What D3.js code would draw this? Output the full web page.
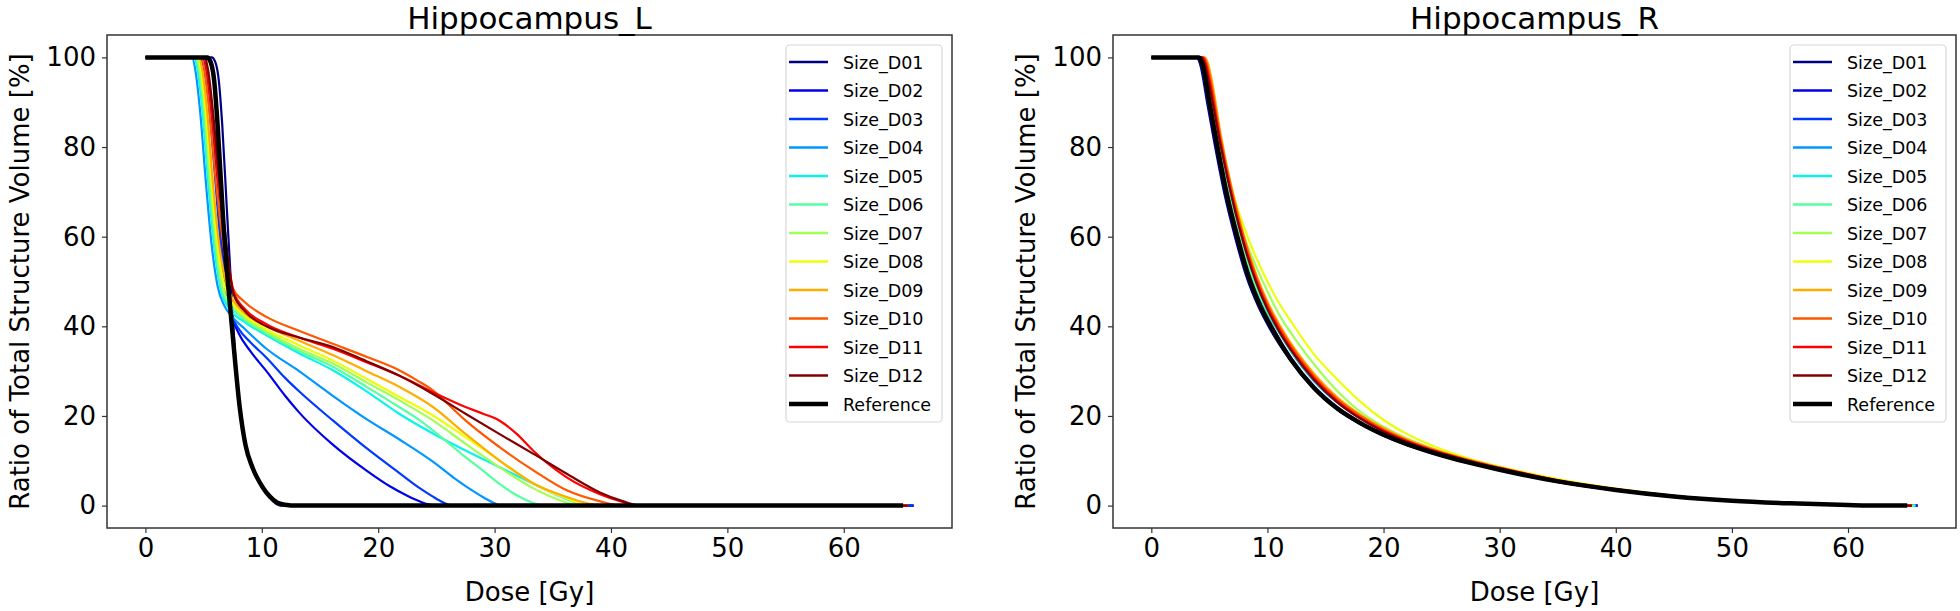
<!DOCTYPE html>
<html>
<head>
<meta charset="utf-8">
<script src="https://cdn.jsdelivr.net/npm/d3@7"></script>
<style>
  html, body { margin: 0; padding: 0; background: #fff; }
  svg { display: block; }
  text { font-family: "DejaVu Sans", sans-serif; fill: #000; }
</style>
</head>
<body>
<svg id="chart" width="1960" height="611"></svg>
<script>
// ---------- data ----------
const seriesNames = ["Size_D01","Size_D02","Size_D03","Size_D04","Size_D05","Size_D06",
                     "Size_D07","Size_D08","Size_D09","Size_D10","Size_D11","Size_D12","Reference"];
const seriesColors = ["#000080","#0000e9","#003aff","#0097ff","#0bf3eb","#56ffa1",
                      "#a1ff56","#ebff0b","#ffad00","#ff5700","#ff0100","#800000","#000000"];
const xTicks = [0, 10, 20, 30, 40, 50, 60];
const yTicks = [0, 20, 40, 60, 80, 100];
const panelTitles = ["Hippocampus_L", "Hippocampus_R"];
const xLabel = "Dose [Gy]";
const yLabel = "Ratio of Total Structure Volume [%]";

// Hippocampus_L : [dose, volume %]
const L_D01 = [[0,100],[5.7,100],[6.0,99],[6.3,95],[6.6,85],[7.0,66],[7.3,52],[7.6,38],[8.1,22],[8.6,13.5],[9.2,8.5],[10.1,4],[10.7,1.8],[11.3,0.3],[11.6,0],[66,0]];
const L_D02 = [[0,100],[4.8,100],[5.1,98],[5.5,91],[6.0,76],[6.5,60],[7.0,48],[7.4,42.5],[8.0,38.5],[9.0,34.5],[10.4,30],[12,24.5],[13.2,20.8],[16.1,13.6],[19,7.8],[21,4.3],[22.5,2.2],[23.6,0.9],[24.4,0.2],[25,0],[66,0]];
const L_D03 = [[0,100],[4.7,100],[5.0,98],[5.4,91],[5.9,76],[6.4,60],[6.9,48],[7.4,42.5],[8.0,39.5],[9.0,36.5],[10.4,33],[12,28.5],[13.2,25.5],[16.1,19],[19,12.8],[21.8,7.3],[23.5,4],[24.7,2],[25.6,0.7],[26.3,0],[66,0]];
const L_D04 = [[0,100],[4.0,100],[4.3,97],[4.7,88],[5.2,72],[5.7,58],[6.2,49],[6.8,44.5],[7.5,42],[8.5,39.5],[10.4,35],[13.2,30],[16.1,24.5],[19,19.3],[21.8,14.8],[24.7,9.8],[26.5,6.2],[28,3.5],[29.2,1.6],[30,0.5],[30.6,0],[65.5,0]];
const L_D05 = [[0,100],[4.2,100],[4.5,97],[4.9,88],[5.4,72],[5.9,58],[6.5,48],[7.2,44],[8.5,41],[10.4,38],[13.2,34],[16.1,30.2],[19,25.5],[21.8,20.5],[24.7,16.1],[27.5,12.3],[30.4,8.6],[33.3,4.9],[35.5,2.2],[37,0.7],[38,0],[65.5,0]];
const L_D06 = [[0,100],[4.3,100],[4.6,97],[5.0,88],[5.5,72],[6.0,58],[6.6,48],[7.3,44.5],[8.5,41.5],[10.4,38.4],[13.2,34.5],[16.1,31],[19,26.5],[21.8,22],[23.3,19.5],[24.7,16.8],[26.1,13.8],[27.5,10.8],[29,7.8],[30.4,4.9],[31.9,2.3],[33.1,0.8],[34.2,0],[65.5,0]];
const L_D07 = [[0,100],[4.4,100],[4.7,97],[5.1,88],[5.6,72],[6.1,58],[6.7,48],[7.4,45],[8.5,42],[10.4,38.8],[13.2,35],[16.1,31.7],[19,27.5],[21.8,23.5],[24.7,19],[27.5,13.8],[30.4,8.6],[33.3,3.9],[35.5,1.3],[37.3,0],[65.5,0]];
const L_D08 = [[0,100],[4.5,100],[4.8,97],[5.2,88],[5.7,72],[6.2,58],[6.8,49],[7.4,45.5],[8.5,42.5],[10.4,39.3],[13.2,35.8],[16.1,32.4],[19,28.3],[21.8,24.3],[24.7,20.1],[27.5,15.3],[30.4,10.1],[33.3,5],[36,1.8],[38.2,0],[65.5,0]];
const L_D09 = [[0,100],[4.6,100],[4.9,97],[5.3,88],[5.8,72],[6.3,59],[6.9,50],[7.5,46],[8.5,43],[10.4,40],[13.2,36.8],[16.1,33.6],[19,30],[21.8,26.5],[24.7,22],[27.5,16],[30.4,10.1],[33.3,5],[36.2,1.9],[38,0.5],[39.2,0],[65.5,0]];
const L_D10 = [[0,100],[4.8,100],[5.1,97],[5.5,88],[6.0,74],[6.5,62],[7.0,53],[7.5,48.5],[8.5,45.5],[10.4,42.1],[13.2,39],[16.1,36.1],[19,33.2],[21.8,30.2],[23.3,28],[24.7,25.7],[26.1,22.4],[27.5,19],[30.4,13.1],[33.3,7.9],[36.2,3.4],[39,1],[41,0],[65.5,0]];
const L_D11 = [[0,100],[5.0,100],[5.3,97],[5.7,88],[6.2,74],[6.7,62],[7.2,53],[7.6,47.5],[8.5,44],[10.4,40.5],[13.2,37.5],[16.1,35],[19,32],[21.8,29],[24.7,25.3],[27.5,22],[29,20.5],[30.4,19],[31.9,16],[33.3,12.3],[36.2,6.3],[39,2.6],[41,0.8],[42.2,0],[65.5,0]];
const L_D12 = [[0,100],[5.1,100],[5.4,97],[5.8,88],[6.3,74],[6.8,62],[7.2,53],[7.6,47],[8.5,43.5],[10.4,40],[13.2,37.5],[16.1,35.4],[19,32.2],[21.8,29],[24.7,24.9],[27.5,20.5],[30.4,16],[33.3,11.6],[36.2,7.1],[39,3],[41,1],[42.5,0],[65.5,0]];
const L_REF = [[0,100],[5.3,100],[5.6,99],[5.9,95],[6.2,85],[6.7,63],[7.05,51],[7.5,38],[8.1,22],[8.6,13.5],[9.2,8.5],[10.1,4],[10.7,2],[11.3,0.7],[12,0.2],[13,0],[65.1,0]];

// Hippocampus_R : [dose, volume %]
const R_D01 = [[0,100],[3.9,100],[4.2,98.5],[4.8,90],[5.5,80],[6.3,69.5],[7.2,60],[8.2,51],[9.2,44.5],[10.2,39.5],[12,32.3],[14,26],[16,21.4],[18,18.2],[20,15.6],[22,13.5],[24,11.8],[26,10.4],[28,9.1],[30,7.9],[35,5.3],[40,3.4],[45,2],[50,1.05],[55,0.5],[60,0.12],[63,0],[66,0]];
const R_D02 = [[0,100],[4.0,100],[4.3,98.5],[4.9,90],[5.6,80],[6.4,69.5],[7.3,60],[8.3,51],[9.3,44.5],[10.3,39.5],[12,32.5],[14,26.1],[16,21.5],[18,18.3],[20,15.7],[22,13.6],[24,11.9],[26,10.4],[28,9.1],[30,7.9],[35,5.3],[40,3.4],[45,2],[50,1.05],[55,0.5],[60,0.12],[63,0],[66,0]];
const R_D03 = [[0,100],[4.0,100],[4.3,98.5],[4.9,90],[5.7,80],[6.5,69.5],[7.4,60],[8.4,51],[9.4,44.5],[10.5,39.5],[12,33],[14,26.6],[16,22],[18,18.6],[20,16],[22,13.8],[24,12.1],[26,10.6],[28,9.3],[30,8.1],[35,5.5],[40,3.5],[45,2.05],[50,1.08],[55,0.5],[60,0.12],[63,0],[66,0]];
const R_D04 = [[0,100],[4.1,100],[4.4,98.5],[5.0,90],[5.8,80],[6.7,69.5],[7.6,60],[8.6,51],[9.7,44.5],[10.8,39.5],[12,34.5],[14,27.8],[16,23],[18,19.4],[20,16.6],[22,14.3],[24,12.5],[26,10.9],[28,9.5],[30,8.3],[35,5.6],[40,3.6],[45,2.1],[50,1.1],[55,0.5],[60,0.12],[63,0],[65.8,0]];
const R_D05 = [[0,100],[4.1,100],[4.4,98.5],[5.0,90],[5.8,80],[6.7,69.5],[7.6,60],[8.6,51],[9.7,44.5],[10.8,39.5],[12,34.6],[14,28],[16,23.2],[18,19.6],[20,16.8],[22,14.4],[24,12.6],[26,11],[28,9.6],[30,8.3],[35,5.6],[40,3.6],[45,2.1],[50,1.1],[55,0.5],[60,0.12],[63,0],[65.8,0]];
const R_D06 = [[0,100],[4.2,100],[4.5,98.5],[5.1,90],[5.9,80],[6.8,69.5],[7.7,60],[8.7,51],[9.8,44.5],[10.9,39.5],[12,35],[14,28.3],[16,23.4],[18,19.8],[20,16.9],[22,14.5],[24,12.7],[26,11],[28,9.6],[30,8.3],[35,5.6],[40,3.6],[45,2.1],[50,1.1],[55,0.5],[60,0.12],[63,0],[65.8,0]];
const R_D07 = [[0,100],[4.3,100],[4.6,98.5],[5,93],[6,80],[7,68.5],[8,60],[9,53.5],[10,47.8],[11,42.7],[12,38.6],[14,31.6],[16,25.6],[18,20.9],[20,17.6],[22,15],[24,12.9],[26,11.2],[28,9.8],[30,8.5],[35,5.8],[40,3.7],[45,2.15],[50,1.1],[55,0.5],[60,0.12],[63,0],[65.5,0]];
const R_D08 = [[0,100],[4.4,100],[4.7,98.5],[5,94],[6,81],[7,70],[8,62],[9,55.5],[10,50],[11,45.2],[12,41.2],[14,33.8],[16,28.2],[18,23.2],[20,19.1],[22,16],[24,13.6],[26,11.6],[28,10],[30,8.7],[35,5.9],[40,3.8],[45,2.2],[50,1.1],[55,0.5],[60,0.12],[63,0],[65.5,0]];
const R_D09 = [[0,100],[4.6,100],[4.9,98.5],[5.2,95],[6,82.5],[7,70],[8,60],[9,51.8],[10,45.5],[11,40.5],[12,36.3],[14,29.5],[16,24.2],[18,20.3],[20,17.3],[22,14.8],[24,12.9],[26,11.2],[28,9.8],[30,8.5],[35,5.7],[40,3.7],[45,2.2],[50,1.1],[55,0.5],[60,0.12],[63,0],[65.5,0]];
const R_D10 = [[0,100],[4.5,100],[4.8,98.5],[5.1,95],[6,81.5],[7,69.5],[8,59.5],[9,51.3],[10,45],[11,40],[12,35.8],[14,29],[16,23.8],[18,20],[20,17],[22,14.6],[24,12.7],[26,11.1],[28,9.7],[30,8.5],[35,5.7],[40,3.7],[45,2.2],[50,1.1],[55,0.5],[60,0.12],[63,0],[65.5,0]];
const R_D11 = [[0,100],[4.4,100],[4.7,98.5],[5.0,95],[6,80.5],[7,68.5],[8,58.5],[9,50.5],[10,44.3],[11,39.4],[12,35.2],[14,28.5],[16,23.4],[18,19.6],[20,16.7],[22,14.4],[24,12.5],[26,11],[28,9.6],[30,8.4],[35,5.6],[40,3.6],[45,2.15],[50,1.1],[55,0.5],[60,0.12],[63,0],[65.5,0]];
const R_D12 = [[0,100],[4.3,100],[4.6,98.5],[4.9,95],[6,80],[7,68],[8,58],[9,50],[10,43.8],[11,38.9],[12,34.8],[14,28.1],[16,23.1],[18,19.4],[20,16.5],[22,14.2],[24,12.4],[26,10.9],[28,9.5],[30,8.3],[35,5.6],[40,3.6],[45,2.1],[50,1.1],[55,0.5],[60,0.12],[63,0],[65.5,0]];
const R_REF = [[0,100],[4.1,100],[4.4,98.5],[5.0,90],[5.7,80],[6.5,69.5],[7.4,60],[8.4,51],[9.4,44.5],[10.4,39.5],[12,32.7],[14,26.3],[16,21.7],[18,18.4],[20,15.8],[22,13.7],[24,12],[26,10.5],[28,9.2],[30,8],[35,5.4],[40,3.5],[45,2.05],[50,1.08],[55,0.5],[60,0.12],[63,0],[65.1,0]];

const panelSeries = [
  [L_D01,L_D02,L_D03,L_D04,L_D05,L_D06,L_D07,L_D08,L_D09,L_D10,L_D11,L_D12,L_REF],
  [R_D01,R_D02,R_D03,R_D04,R_D05,R_D06,R_D07,R_D08,R_D09,R_D10,R_D11,R_D12,R_REF]
];

// ---------- layout ----------
const panels = [
  { x0: 107, x1: 952, y0: 35, y1: 528, legendX: 786 },
  { x0: 1113, x1: 1956, y0: 35, y1: 528, legendX: 1790 }
];
const svg = d3.select("#chart");

panels.forEach((p, pi) => {
  const x = d3.scaleLinear().domain([-3.3, 69.3]).range([p.x0, p.x1]);
  const y = d3.scaleLinear().domain([-5, 105]).range([p.y1, p.y0]);
  const g = svg.append("g");

  // axes
  const xAxis = g.append("g").attr("transform", `translate(0,${p.y1})`)
    .call(d3.axisBottom(x).tickValues(xTicks).tickSize(5).tickPadding(6).tickFormat(d3.format("d")));
  const yAxis = g.append("g").attr("transform", `translate(${p.x0},0)`)
    .call(d3.axisLeft(y).tickValues(yTicks).tickSize(5).tickPadding(6).tickFormat(d3.format("d")));
  [xAxis, yAxis].forEach(a => {
    a.select(".domain").remove();
    a.selectAll(".tick line").attr("stroke", "#333").attr("stroke-width", 1.2);
    a.selectAll(".tick text").style("font-family", "DejaVu Sans").style("font-size", "26px").attr("fill", "#000");
  });

  // lines
  const line = d3.line().x(d => x(d[0])).y(d => y(d[1])).curve(d3.curveMonotoneX);
  panelSeries[pi].forEach((data, i) => {
    const isRef = i === seriesNames.length - 1;
    g.append("path").datum(data)
      .attr("d", line)
      .attr("fill", "none")
      .attr("stroke", seriesColors[i])
      .attr("stroke-width", isRef ? 4.5 : 2.2)
      .attr("stroke-linejoin", "round")
      .attr("stroke-linecap", "butt");
  });

  // frame
  g.append("rect").attr("x", p.x0).attr("y", p.y0)
    .attr("width", p.x1 - p.x0).attr("height", p.y1 - p.y0)
    .attr("fill", "none").attr("stroke", "#333").attr("stroke-width", 1.5);

  // titles
  g.append("text").attr("x", (p.x0 + p.x1) / 2).attr("y", 29)
    .attr("text-anchor", "middle").style("font-size", "31px").text(panelTitles[pi]);
  g.append("text").attr("x", (p.x0 + p.x1) / 2).attr("y", 601)
    .attr("text-anchor", "middle").style("font-size", "26px").text(xLabel);
  g.append("text")
    .attr("transform", `translate(${p.x0 - 78},${(p.y0 + p.y1) / 2}) rotate(-90)`)
    .attr("text-anchor", "middle").style("font-size", "26px").text(yLabel);

  // legend
  const lx = p.legendX, ly = 45, lw = 156, lh = 377, step = 28.5;
  const leg = g.append("g");
  leg.append("rect").attr("x", lx).attr("y", ly).attr("width", lw).attr("height", lh)
    .attr("rx", 4).attr("fill", "#fff").attr("fill-opacity", 0.85)
    .attr("stroke", "#d8d8d8").attr("stroke-width", 1.2);
  seriesNames.forEach((name, i) => {
    const cy = ly + 17 + i * step;
    const isRef = i === seriesNames.length - 1;
    leg.append("line").attr("x1", lx + 3).attr("x2", lx + 42)
      .attr("y1", cy).attr("y2", cy)
      .attr("stroke", seriesColors[i]).attr("stroke-width", isRef ? 4.5 : 2.3);
    leg.append("text").attr("x", lx + 57).attr("y", cy + 6.5)
      .style("font-size", "17.5px").attr("fill", "#222").text(name);
  });
});
</script>
</body>
</html>
